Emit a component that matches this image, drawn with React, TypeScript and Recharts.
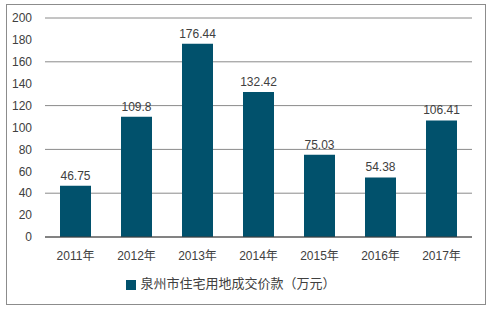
import { Bar, BarChart, CartesianGrid, LabelList, Legend, XAxis, YAxis } from "recharts";

const years = ["2011年", "2012年", "2013年", "2014年", "2015年", "2016年", "2017年"];
const values = [46.75, 109.8, 176.44, 132.42, 75.03, 54.38, 106.41];
const yTicks = [0, 20, 40, 60, 80, 100, 120, 140, 160, 180, 200];
const seriesName = "泉州市住宅用地成交价款（万元）";

const data = years.map((year, i) => ({ year, value: values[i] }));

const font = "'Liberation Sans', 'Noto Sans CJK SC', sans-serif";

const App = () => {
  return (
    <div style={{ position: "absolute", left: 0, top: 0, width: 492, height: 309, background: "#fff", fontFamily: font }}>
      <div
        style={{
          position: "absolute",
          left: 6,
          top: 4,
          width: 478,
          height: 299,
          border: "1px solid #8c8c8c",
        }}
      />
      <BarChart
        width={492}
        height={309}
        data={data}
        margin={{ top: 18, right: 20, bottom: 0, left: 0 }}
        barSize={31}
      >
        <CartesianGrid vertical={false} stroke="#8a8a8a" />
        <XAxis
          dataKey="year"
          tickLine={false}
          axisLine={{ stroke: "#404040" }}
          tick={{ fontSize: 12, fill: "#404040", fontFamily: font }}
          tickMargin={8}
          height={36}
        />
        <YAxis
          width={45}
          domain={[0, 200]}
          ticks={yTicks}
          tickLine={false}
          axisLine={false}
          tick={{ fontSize: 12, fill: "#404040", fontFamily: font }}
          tickMargin={7}
        />
        <Legend
          verticalAlign="bottom"
          iconType="square"
          iconSize={10}
          height={36}
          wrapperStyle={{ fontSize: 13, color: "#404040", fontFamily: font }}
          formatter={(v: string) => <span style={{ color: "#404040" }}>{v}</span>}
        />
        <Bar dataKey="value" name={seriesName} fill="#01516c" isAnimationActive={false}>
          <LabelList dataKey="value" position="top" offset={6} style={{ fontSize: 12, fill: "#404040", fontFamily: font }} />
        </Bar>
      </BarChart>
    </div>
  );
};

export default App;
